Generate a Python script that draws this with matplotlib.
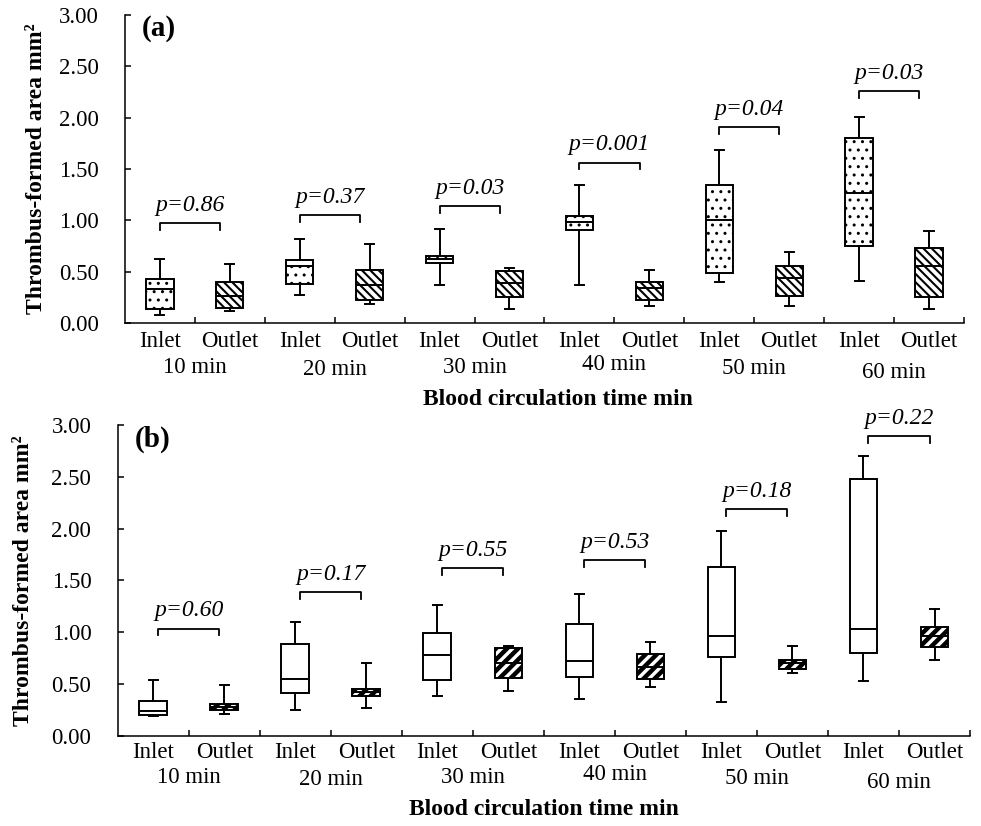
import matplotlib.pyplot as plt

plt.rcParams['font.family'] = ['Liberation Serif', 'DejaVu Serif']

# ----------------------------------------------------------------
#  data (box stats per time point)

groups = ['10 min', '20 min', '30 min', '40 min', '50 min', '60 min']
sides = ['Inlet', 'Outlet']

# panel (a)
a_in_lo = [0.08, 0.27, 0.37, 0.37, 0.40, 0.41]
a_in_q1 = [0.14, 0.38, 0.58, 0.91, 0.49, 0.75]
a_in_med = [0.33, 0.55, 0.62, 0.98, 1.00, 1.27]
a_in_q3 = [0.43, 0.61, 0.65, 1.04, 1.34, 1.80]
a_in_hi = [0.62, 0.82, 0.92, 1.34, 1.68, 2.01]

a_out_lo = [0.12, 0.18, 0.14, 0.17, 0.17, 0.14]
a_out_q1 = [0.15, 0.22, 0.25, 0.22, 0.26, 0.25]
a_out_med = [0.26, 0.37, 0.39, 0.34, 0.44, 0.55]
a_out_q3 = [0.40, 0.52, 0.51, 0.40, 0.55, 0.73]
a_out_hi = [0.57, 0.77, 0.54, 0.52, 0.69, 0.90]

a_pvals = ['0.86', '0.37', '0.03', '0.001', '0.04', '0.03']
a_bracket = [0.97, 1.05, 1.14, 1.56, 1.91, 2.26]

# panel (b)
b_in_lo = [0.19, 0.25, 0.39, 0.36, 0.33, 0.53]
b_in_q1 = [0.20, 0.41, 0.54, 0.565, 0.76, 0.80]
b_in_med = [0.24, 0.545, 0.78, 0.725, 0.96, 1.03]
b_in_q3 = [0.34, 0.89, 0.99, 1.08, 1.63, 2.48]
b_in_hi = [0.54, 1.10, 1.26, 1.37, 1.98, 2.70]

b_out_lo = [0.215, 0.27, 0.43, 0.47, 0.61, 0.73]
b_out_q1 = [0.25, 0.39, 0.555, 0.55, 0.65, 0.86]
b_out_med = [0.28, 0.42, 0.70, 0.67, 0.70, 0.96]
b_out_q3 = [0.31, 0.455, 0.85, 0.79, 0.735, 1.05]
b_out_hi = [0.49, 0.705, 0.87, 0.91, 0.87, 1.22]

b_pvals = ['0.60', '0.17', '0.55', '0.53', '0.18', '0.22']
b_bracket = [1.035, 1.385, 1.62, 1.695, 2.19, 2.89]

yticks = [0.0, 0.5, 1.0, 1.5, 2.0, 2.5, 3.0]


def make_stats(lo, q1, med, q3, hi):
    return [dict(whislo=w0, q1=b0, med=m, q3=b1, whishi=w1)
            for w0, b0, m, b1, w1 in zip(lo, q1, med, q3, hi)]


# small vertical jitter of the group labels as in the original (pixels)
group_dy = [0, 2, 0, -3, 1, 5]
fs = 16.5


def draw_panel(ax, st_in, st_out, hatch_in, hatch_out, hlw_in, hlw_out,
               pvals, bracket, tag, br_shift, xlab_x, dy_side, dy_group, dy_xlab):
    n = len(groups)
    pos_in = [2 * i + 1 for i in range(n)]
    pos_out = [2 * i + 2 for i in range(n)]
    lw = 1.4
    props = dict(widths=0.39, capwidths=0.13, showfliers=False, patch_artist=True,
                 boxprops=dict(linewidth=lw, edgecolor='k'),
                 whiskerprops=dict(linewidth=lw, color='k'),
                 capprops=dict(linewidth=lw, color='k'),
                 medianprops=dict(linewidth=lw, color='k'))
    for st, pos, hatch, hlw in [(st_in, pos_in, hatch_in, hlw_in),
                                (st_out, pos_out, hatch_out, hlw_out)]:
        with plt.rc_context({'hatch.linewidth': hlw, 'hatch.color': 'k'}):
            bp = ax.bxp(st, positions=pos, **props)
        for box in bp['boxes']:
            box.set_facecolor('white')
            box.set_hatch(hatch)
            if hasattr(box, 'set_hatch_linewidth'):
                box.set_hatch_linewidth(hlw)

    ax.set_xlim(0.5, 2 * n + 0.5)
    ax.set_ylim(0, 3.0)
    ax.set_xticks([i + 0.5 for i in range(1, 2 * n + 1)])
    ax.set_yticks(yticks)
    ax.set_yticklabels(['%.2f' % v for v in yticks])
    ax.tick_params(axis='x', direction='in', length=4.5, width=1.1, labelbottom=False)
    ax.tick_params(axis='y', direction='in', length=4.5, width=1.1, labelsize=fs, pad=19)
    for s in ['top', 'right']:
        ax.spines[s].set_visible(False)
    for s in ['left', 'bottom']:
        ax.spines[s].set_linewidth(1.1)

    tr = ax.get_xaxis_transform()
    for i in range(n):
        ax.annotate(sides[0], (pos_in[i], 0), xycoords=tr, xytext=(0, dy_side),
                    textcoords='offset pixels', ha='center', va='center', fontsize=fs)
        ax.annotate(sides[1], (pos_out[i], 0), xycoords=tr, xytext=(0, dy_side),
                    textcoords='offset pixels', ha='center', va='center', fontsize=fs)
        ax.annotate(groups[i], ((pos_in[i] + pos_out[i]) / 2, 0), xycoords=tr,
                    xytext=(0, dy_group - group_dy[i]), textcoords='offset pixels',
                    ha='center', va='center', fontsize=fs)

        xc = (pos_in[i] + pos_out[i]) / 2 + br_shift
        y = bracket[i]
        ax.plot([xc - 0.43, xc - 0.43, xc + 0.43, xc + 0.43],
                [y - 0.065, y, y, y - 0.065], color='k', lw=1.3, clip_on=False)
        ax.text(xc, y + 0.12, 'p=' + pvals[i], ha='center', va='baseline',
                fontsize=17, fontstyle='italic', clip_on=False)

    ax.text(0.02, 0.955, tag, transform=ax.transAxes, fontsize=21,
            fontweight='bold', ha='left', va='center')
    ax.annotate('Blood circulation time min', (xlab_x, 0), xycoords='axes fraction',
                xytext=(0, dy_xlab), textcoords='offset pixels', ha='center',
                va='center', fontsize=17, fontweight='bold')


fig = plt.figure(figsize=(9.81, 8.26), dpi=100)
ax_a = fig.add_axes([0.1274, 0.6090, 0.8552, 0.3729])
ax_b = fig.add_axes([0.1200, 0.1090, 0.8688, 0.3765])

draw_panel(ax_a,
           make_stats(a_in_lo, a_in_q1, a_in_med, a_in_q3, a_in_hi),
           make_stats(a_out_lo, a_out_q1, a_out_med, a_out_q3, a_out_hi),
           '..', '\\\\\\\\', 1.0, 1.5, a_pvals, a_bracket, '(a)', -0.07, 0.516,
           -19, -45, -77)
draw_panel(ax_b,
           make_stats(b_in_lo, b_in_q1, b_in_med, b_in_q3, b_in_hi),
           make_stats(b_out_lo, b_out_q1, b_out_med, b_out_q3, b_out_hi),
           '', '///', 1.0, 3.2, b_pvals, b_bracket, '(b)', 0.0, 0.5,
           -17, -42, -74)

ax_a.set_ylabel('Thrombus-formed area mm²', fontsize=17, fontweight='bold', va='center')
ax_a.yaxis.set_label_coords(-0.106, 0.5)
ax_b.set_ylabel('Thrombus-formed area mm²', fontsize=17, fontweight='bold', va='center')
ax_b.yaxis.set_label_coords(-0.111, 0.5)

plt.savefig('out.png', dpi=100)
